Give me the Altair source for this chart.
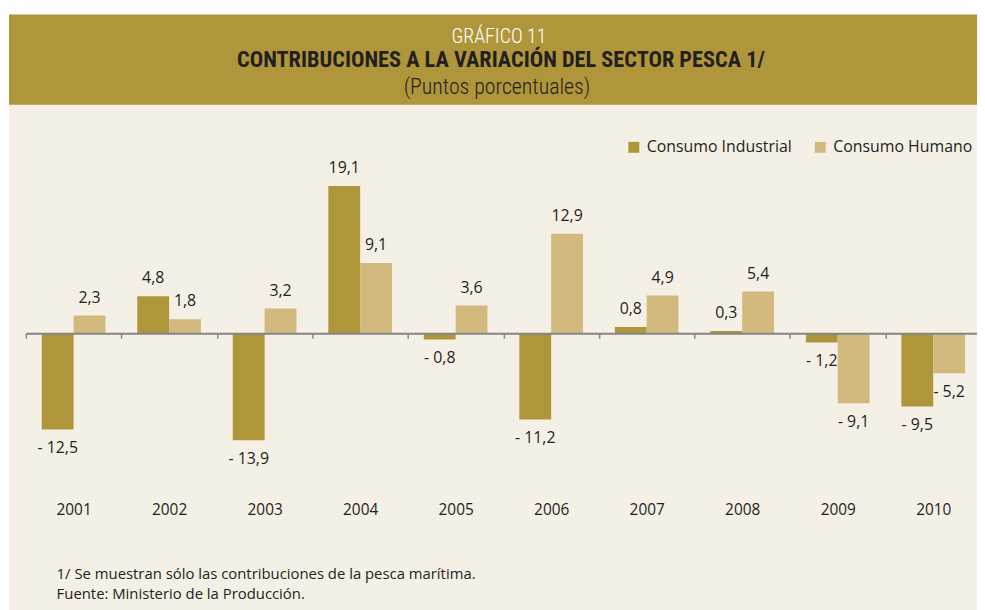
import altair as alt
import pandas as pd

# ---------------- data ----------------
YEARS = ["2001", "2002", "2003", "2004", "2005", "2006", "2007", "2008", "2009", "2010"]
SERIES = ["Consumo Industrial", "Consumo Humano"]
INDUSTRIAL = [-12.5, 4.8, -13.9, 19.1, -0.8, -11.2, 0.8, 0.3, -1.2, -9.5]
HUMANO = [2.3, 1.8, 3.2, 9.1, 3.6, 12.9, 4.9, 5.4, -9.1, -5.2]

TITLE_TOP = "GRÁFICO 11"
TITLE = "CONTRIBUCIONES A LA VARIACIÓN DEL SECTOR PESCA 1/"
SUBTITLE = "(Puntos porcentuales)"
NOTE_1 = "1/ Se muestran sólo las contribuciones de la pesca marítima."
NOTE_2 = "Fuente: Ministerio de la Producción."


def fmt(v):
    s = f"{abs(v):.1f}".replace(".", ",")
    return ("- " + s) if v < 0 else s


rows = []
for i, yr in enumerate(YEARS):
    rows.append({"year": yr, "series": SERIES[0], "value": INDUSTRIAL[i]})
    rows.append({"year": yr, "series": SERIES[1], "value": HUMANO[i]})
df = pd.DataFrame(rows)
df["label"] = df["value"].map(fmt)

# ---------------- style ----------------
GOLD = "#B0963A"
LIGHT = "#D2BA7F"
CREAM = "#F5F0E5"
INK = "#231F20"
AXIS_GREY = "#858585"
FONT = "Open Sans"
NARROW = "Roboto Condensed, DejaVu Sans Condensed, Roboto"

L, T, R, B = 18, 170, 0, 160
W, H = 959, 272
Y_MIN, Y_MAX = -15, 20
PX = H / (Y_MAX - Y_MIN)

x_enc = alt.X(
    "year:N",
    sort=YEARS,
    scale=alt.Scale(paddingInner=0, paddingOuter=0, rangeMax=963),
    axis=alt.Axis(
        title=None,
        orient="bottom",
        offset=-(0 - Y_MIN) * PX,
        zindex=1,
        domainColor=AXIS_GREY,
        domainWidth=2,
        tickColor=AXIS_GREY,
        tickWidth=1.5,
        tickSize=5,
        tickBand="extent",
        labelAngle=0,
        labelFont=FONT,
        labelFontSize=15.5,
        labelColor=INK,
        labelBaseline="middle",
        labelPadding=173,
    ),
)
xoff_enc = alt.XOffset(
    "series:N", sort=SERIES,
    scale=alt.Scale(domain=SERIES, paddingInner=0, paddingOuter=0.5),
)
y_enc = alt.Y("value:Q", scale=alt.Scale(domain=[Y_MIN, Y_MAX], nice=False), axis=None)

one = pd.DataFrame({"k": [0]})

cream = alt.Chart(one).mark_rect(color=CREAM).encode(
    x=alt.value(-17), x2=alt.value(W + 20), y=alt.value(4 - T), y2=alt.value(H + B + 10)
)
band = alt.Chart(one).mark_rect(color=GOLD).encode(
    x=alt.value(-17), x2=alt.value(W + 20), y=alt.value(4 - T), y2=alt.value(95 - T)
)

t1 = alt.Chart(pd.DataFrame({"t": [TITLE_TOP]})).mark_text(
    font=NARROW, fontSize=20, fontWeight=300, color="#FFFFFF", align="center", baseline="middle"
).encode(text="t:N", x=alt.value(477), y=alt.value(35 - 8 - T))
t2 = alt.Chart(pd.DataFrame({"t": [TITLE]})).mark_text(
    font=NARROW, fontSize=22.5, fontWeight="bold", color=INK, align="center", baseline="middle"
).encode(text="t:N", x=alt.value(479), y=alt.value(58.5 - 8 - T))
t3 = alt.Chart(pd.DataFrame({"t": [SUBTITLE]})).mark_text(
    font=NARROW, fontSize=22, fontWeight=300, color=INK, align="center", baseline="middle"
).encode(text="t:N", x=alt.value(475), y=alt.value(85 - 8 - T))

note1 = alt.Chart(pd.DataFrame({"t": [NOTE_1]})).mark_text(
    font=FONT, fontSize=15, color=INK, align="left", baseline="middle"
).encode(text="t:N", x=alt.value(31), y=alt.value(576 - 8 - T))
note2 = alt.Chart(pd.DataFrame({"t": [NOTE_2]})).mark_text(
    font=FONT, fontSize=15, color=INK, align="left", baseline="middle"
).encode(text="t:N", x=alt.value(31), y=alt.value(596 - 8 - T))

bars = alt.Chart(df).mark_bar().encode(
    x=x_enc,
    xOffset=xoff_enc,
    y=y_enc,
    color=alt.Color(
        "series:N",
        sort=SERIES,
        scale=alt.Scale(domain=SERIES, range=[GOLD, LIGHT]),
        legend=alt.Legend(
            title=None,
            orient="none",
            direction="horizontal",
            legendX=605,
            legendY=-40,
            symbolType="square",
            symbolSize=121,
            symbolStrokeWidth=0,
            symbolOpacity=1,
            labelFont=FONT,
            labelFontSize=16,
            labelColor=INK,
            labelOffset=5,
            columnPadding=20,
            padding=0,
        ),
    ),
)

pos = alt.Chart(df).transform_filter("datum.value >= 0").mark_text(
    font=FONT, fontSize=16, color=INK, baseline="middle", dy=-18
).encode(x=x_enc, xOffset=xoff_enc, y=y_enc, text="label:N")
neg = alt.Chart(df).transform_filter("datum.value < 0").mark_text(
    font=FONT, fontSize=16, color=INK, baseline="middle", dy=19
).encode(x=x_enc, xOffset=xoff_enc, y=y_enc, text="label:N")

chart = (
    alt.layer(cream, band, t1, t2, t3, bars, pos, neg, note1, note2)
    .properties(
        width=W,
        height=H,
        autosize=alt.AutoSizeParams(type="none"),
        padding={"left": L, "top": T, "right": R, "bottom": B},
        background="white",
    )
    .configure_view(strokeWidth=0)
)

chart.save("out.html", embed_options={"renderer": "svg", "actions": False})
